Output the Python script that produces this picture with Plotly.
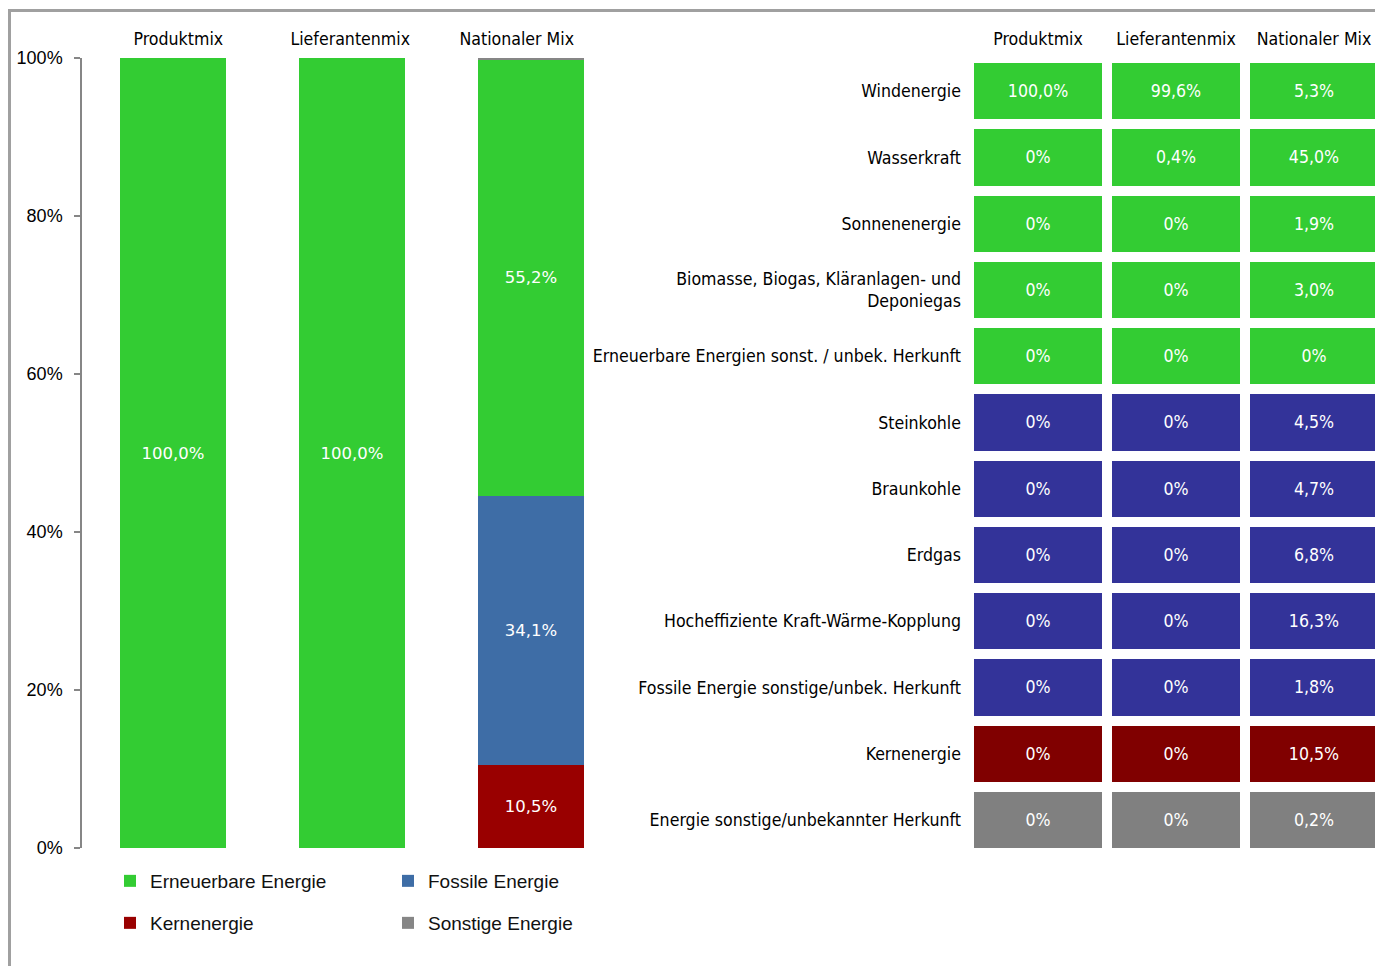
import plotly.graph_objects as go

# ---------------- data ----------------
categories = ["Produktmix", "Lieferantenmix", "Nationaler Mix"]
erneuerbar = [100.0, 100.0, 55.2]
fossil = [0.0, 0.0, 34.1]
kern = [0.0, 0.0, 10.5]
sonstige = [0.0, 0.0, 0.2]

y_ticks = [0, 20, 40, 60, 80, 100]
y_tick_labels = ["0%", "20%", "40%", "60%", "80%", "100%"]

rows = [
    "Windenergie",
    "Wasserkraft",
    "Sonnenenergie",
    "Biomasse, Biogas, Kläranlagen- und<br>Deponiegas",
    "Erneuerbare Energien sonst. / unbek. Herkunft",
    "Steinkohle",
    "Braunkohle",
    "Erdgas",
    "Hocheffiziente Kraft-Wärme-Kopplung",
    "Fossile Energie sonstige/unbek. Herkunft",
    "Kernenergie",
    "Energie sonstige/unbekannter Herkunft",
]
row_group = [0, 0, 0, 0, 0, 1, 1, 1, 1, 1, 2, 3]  # 0 renewable, 1 fossil, 2 nuclear, 3 other
produktmix = [100.0, 0, 0, 0, 0, 0, 0, 0, 0, 0, 0, 0]
lieferantenmix = [99.6, 0.4, 0, 0, 0, 0, 0, 0, 0, 0, 0, 0]
nationaler_mix = [5.3, 45.0, 1.9, 3.0, 0, 4.5, 4.7, 6.8, 16.3, 1.8, 10.5, 0.2]

# ---------------- styling ----------------
GREEN = "#33CC33"
BLUE_BAR = "#3E6DA6"
RED_BAR = "#990000"
GRAY_BAR = "#868686"
TBL_COLORS = ["#33CC33", "#333399", "#800000", "#808080"]

NARROW = "Liberation Sans Narrow, Arial Narrow, DejaVu Sans Condensed, sans-serif"
NARROW_SIZE = 17.6
ARIAL = "Liberation Sans, Arial, sans-serif"
LABEL = "DejaVu Sans, Verdana, sans-serif"

OFF = 8  # page body margin of the browser
W, H = 1383 - OFF, 966 - OFF

# header label placement (slightly off the bar centres, as in the original)
header_pos = [0.03, 0.99, 1.92]


def px_x(p):
    return (p - OFF) / W


def px_y(p):
    return 1 - (p - OFF) / H


def fmt(v):
    if v == 0:
        return "0%"
    return f"{v:.1f}%".replace(".", ",")


def bar_text(vals):
    return [fmt(v) if v >= 1 else "" for v in vals]


fig = go.Figure()

series = [
    ("Kernenergie", kern, RED_BAR, "legend2"),
    ("Fossile Energie", fossil, BLUE_BAR, "legend"),
    ("Erneuerbare Energie", erneuerbar, GREEN, "legend"),
    ("Sonstige Energie", sonstige, GRAY_BAR, "legend2"),
]
rank = {"Erneuerbare Energie": 1, "Fossile Energie": 2, "Kernenergie": 3, "Sonstige Energie": 4}
for name, vals, col, lg in series:
    fig.add_trace(go.Bar(
        x=categories, y=vals, name=name, marker=dict(color=col, line=dict(width=0)),
        text=bar_text(vals), textposition="inside", insidetextanchor="middle",
        textfont=dict(family=LABEL, size=16.5, color="white"),
        legend=lg, legendrank=rank[name],
        xaxis="x", yaxis="y", hoverinfo="skip", cliponaxis=False,
    ))

# table as heatmap
z = [[g, g, g] for g in row_group]
txt = [[fmt(a), fmt(b), fmt(c)] for a, b, c in zip(produktmix, lieferantenmix, nationaler_mix)]
fig.add_trace(go.Heatmap(
    x=categories, y=rows, z=z, text=txt, texttemplate="%{text}",
    textfont=dict(family=NARROW, size=NARROW_SIZE, color="white"),
    colorscale=[[0, TBL_COLORS[0]], [1 / 3, TBL_COLORS[1]], [2 / 3, TBL_COLORS[2]], [1, TBL_COLORS[3]]],
    zmin=0, zmax=3, showscale=False, xgap=10, ygap=10,
    xaxis="x2", yaxis="y2", hoverinfo="skip", showlegend=False,
))

fig.update_layout(
    width=W, height=H,
    margin=dict(l=0, r=0, t=0, b=0, pad=0, autoexpand=False),
    paper_bgcolor="white", plot_bgcolor="white",
    barmode="stack", bargap=0.408,
    hovermode=False,
    xaxis=dict(
        domain=[px_x(82), px_x(622)], range=[-0.508, 2.508], side="top",
        tickmode="array", tickvals=header_pos, ticktext=categories,
        showgrid=False, zeroline=False, showline=False, ticks="", tickangle=0,
        ticklabelstandoff=8, automargin=False,
        tickfont=dict(family=NARROW, size=NARROW_SIZE, color="black"), anchor="y",
        fixedrange=True,
    ),
    yaxis=dict(
        domain=[px_y(848), px_y(58)], range=[0, 100], tickvals=y_ticks, ticktext=y_tick_labels,
        showgrid=False, zeroline=False, showline=True, linecolor="#868686", linewidth=1.5,
        ticks="outside", ticklen=6, tickcolor="#868686", tickwidth=1.5,
        ticklabelstandoff=8, automargin=False,
        tickfont=dict(family=ARIAL, size=18, color="black"), anchor="x",
        fixedrange=True,
    ),
    xaxis2=dict(
        domain=[px_x(969), px_x(1383)], side="top", showgrid=False, zeroline=False,
        showline=False, ticks="", tickangle=0, ticklabelstandoff=8, automargin=False,
        tickfont=dict(family=NARROW, size=NARROW_SIZE, color="black"),
        anchor="y2", fixedrange=True,
    ),
    yaxis2=dict(
        domain=[px_y(853), px_y(58)], autorange="reversed", showgrid=False, zeroline=False,
        showline=False, ticks="", ticklabelstandoff=7, automargin=False,
        tickfont=dict(family=NARROW, size=NARROW_SIZE, color="black"), anchor="x2", fixedrange=True,
    ),
    legend=dict(
        orientation="h", x=px_x(110), xanchor="left", y=px_y(881), yanchor="middle",
        entrywidth=233, entrywidthmode="pixels", traceorder="normal",
        font=dict(family=ARIAL, size=19, color="#111111"), bgcolor="rgba(0,0,0,0)",
    ),
    legend2=dict(
        orientation="h", x=px_x(110), xanchor="left", y=px_y(923), yanchor="middle",
        entrywidth=233, entrywidthmode="pixels", traceorder="normal",
        font=dict(family=ARIAL, size=19, color="#111111"), bgcolor="rgba(0,0,0,0)",
    ),
    shapes=[
        dict(type="rect", xref="paper", yref="paper",
             x0=1.5 / W, x1=1.05, y0=-0.05, y1=px_y(10.5),
             line=dict(color="#A0A0A0", width=3), fillcolor="rgba(0,0,0,0)", layer="above"),
    ],
)

fig.write_html("out.html")
